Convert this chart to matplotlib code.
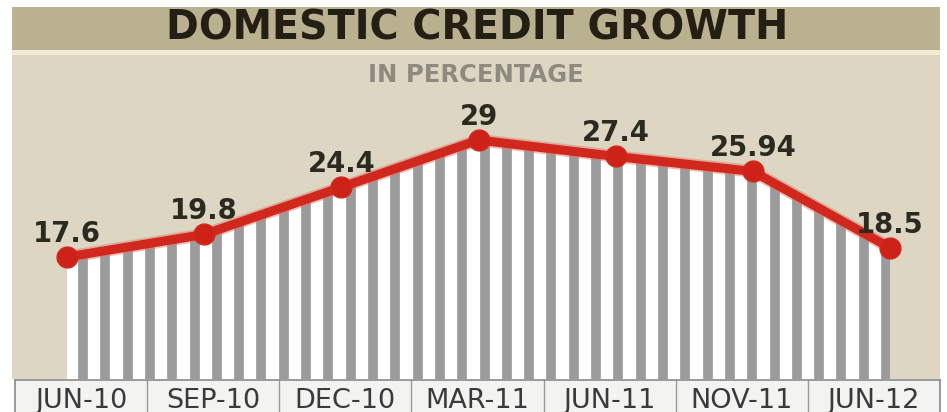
import numpy as np
import matplotlib
matplotlib.use("Agg")
import matplotlib.pyplot as plt
from matplotlib.patches import Rectangle

periods = ["JUN-10", "SEP-10", "DEC-10", "MAR-11", "JUN-11", "NOV-11", "JUN-12"]
growth = [17.6, 19.8, 24.4, 29.0, 27.4, 25.94, 18.5]
value_labels = ["17.6", "19.8", "24.4", "29", "27.4", "25.94", "18.5"]

W, H = 947, 412
BAND = "#b9b190"
PANEL = "#dcd6c3"
RED = "#d1281d"
STRIPE = "#9b9b9b"


def main():
    fig = plt.figure(figsize=(W / 100, H / 100), dpi=100)
    fig.patch.set_facecolor("white")

    # title band + thin cream line
    fig.patches.append(Rectangle((12 / W, (H - 50) / H), 928 / W, 43 / H,
                                 transform=fig.transFigure, facecolor=BAND,
                                 edgecolor="none", zorder=0))
    fig.patches.append(Rectangle((12 / W, (H - 55) / H), 928 / W, 5 / H,
                                 transform=fig.transFigure, facecolor="#f1ebd6",
                                 edgecolor="none", zorder=0))
    fig.text(477 / W, (H - 29) / H, "DOMESTIC CREDIT GROWTH", ha="center",
             va="center", fontsize=28.5, fontweight="bold", color="#241f14",
             family="DejaVu Sans")

    # main plot panel
    ax = fig.add_axes([12 / W, 33 / H, 928 / W, 324 / H])
    ax.set_facecolor(PANEL)
    for s in ax.spines.values():
        s.set_visible(False)
    ax.set_xticks([])
    ax.set_yticks([])
    ax.set_xlim(-0.401, 6.364)
    ax.set_ylim(5.71, 37.29)
    ax.text(0.5, (324 - 20) / 324, "IN PERCENTAGE", transform=ax.transAxes,
            ha="center", va="center", fontsize=17.5, fontweight="bold",
            color="#8e8a80")

    x = np.arange(len(periods))
    ymin, ymax = ax.get_ylim()

    area = ax.fill_between(x, growth, ymin, facecolor="white", lw=0, zorder=1)
    xs = np.arange(x[0] + 0.117, x[-1], 0.1626)
    stripes = ax.vlines(xs, ymin, ymax, colors=STRIPE, lw=7, zorder=2)
    stripes.set_clip_path(area.get_paths()[0], ax.transData)

    ax.plot(x, growth, color="#e27a6e", lw=9, alpha=0.5, zorder=3,
            solid_capstyle="round")
    ax.plot(x, growth, color=RED, lw=6.5, zorder=4, solid_capstyle="round",
            marker="o", markersize=15, markerfacecolor="#cc2218",
            markeredgecolor=RED)

    for xi, v, lab in zip(x, growth, value_labels):
        ax.annotate(lab, (xi, v), xytext=(0, 11), textcoords="offset points",
                    ha="center", va="baseline", fontsize=19.8,
                    fontweight="bold", color="#2a2a20", zorder=5)

    # category label row
    lx = fig.add_axes([15 / W, 0, 925 / W, 32 / H])
    lx.set_facecolor("#f3f3f1")
    lx.set_xlim(0, len(periods))
    lx.set_ylim(0, 1)
    lx.set_xticks([])
    lx.set_yticks([])
    for k in ["top", "left", "right"]:
        lx.spines[k].set_color("#8a8a8a")
        lx.spines[k].set_linewidth(1.2)
    lx.spines["bottom"].set_visible(False)
    for i in range(1, len(periods)):
        lx.axvline(i, color="#9a9a9a", lw=1.0)
    for i, p in enumerate(periods):
        lx.text(i + 0.5, 0.13, p, ha="center", va="baseline", fontsize=19.5,
                color="#3a3a3a")

    fig.savefig("out.png", dpi=100, facecolor="white")


if __name__ == "__main__":
    main()
